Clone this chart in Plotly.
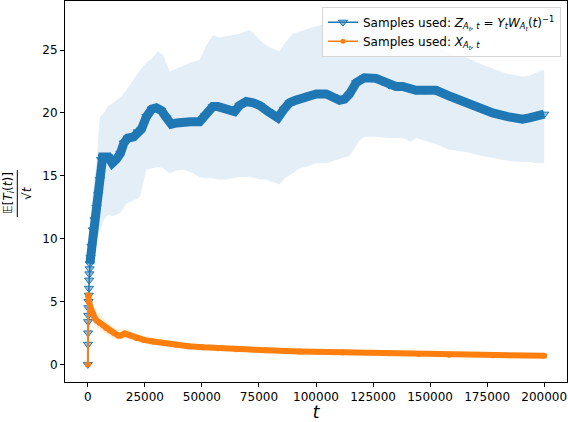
import plotly.graph_objects as go

# mean curve for the weighted samples Z (blue)
blue_t = [0, 50, 100, 150, 200, 250, 300, 400, 500, 600, 700, 800, 900,
          1200, 1600, 2200, 3000, 3800, 4600, 5300, 5800, 6500, 9000, 10700,
          12500, 14300, 15800, 17500, 20100, 22000, 23500, 25700, 28000, 30000,
          32200, 34500, 36600, 39000, 41700, 45000, 49000, 51500, 54800, 57000,
          59200, 62000, 64300, 66500, 69400, 72500, 75300, 79000, 83300, 86000,
          88400, 91000, 94200, 97000, 100100, 104500, 107500, 110300, 112500,
          114700, 117600, 121200, 126300, 129000, 132100, 135000, 138000,
          141000, 143800, 148000, 152600, 159000, 165700, 171000, 177400,
          184000, 190500, 193500, 196400, 200000]
blue_y = [0, 1.6, 2.5, 3.4, 3.9, 4.5, 5.0, 5.5, 6.05, 6.7, 7.2, 7.6, 8.0,
          8.5, 9.4, 10.7, 11.5, 12.5, 13.5, 14.7, 16.3, 16.5, 16.5, 16.0,
          16.3, 16.8, 17.6, 18.0, 18.1, 18.5, 18.7, 19.7, 20.3, 20.4,
          20.2, 19.6, 19.1, 19.2, 19.3, 19.3, 19.3, 19.8, 20.5, 20.5,
          20.4, 20.3, 20.1, 20.6, 20.9, 20.8, 20.6, 20.1, 19.6, 20.3,
          20.8, 21.0, 21.2, 21.4, 21.5, 21.5, 21.3, 21.0, 21.1,
          21.5, 22.4, 22.8, 22.75, 22.5, 22.2, 22.1, 22.1,
          21.9, 21.8, 21.8, 21.8, 21.3, 20.8, 20.4, 20.0,
          19.7, 19.5, 19.6, 19.75, 19.9]

# spread band around the blue curve
band_t = [0, 500, 1000, 2000, 3000, 4000, 4800, 5300, 7000, 8800, 11000,
          14000, 16900, 19500, 22800, 25700, 28000, 30800, 33000, 35900,
          38500, 41700, 45000, 49000, 52000, 54800, 57500, 60700, 63500,
          66500, 69400, 70900, 73000, 75300, 78100, 81000, 84000, 86500,
          89800, 93000, 97200, 100100, 104500, 108000, 110300, 114700,
          117000, 119000, 121500, 126000, 132100, 138000, 141500, 144000,
          152600, 158000, 165700, 172000, 178000, 184000, 190500, 194000,
          196400, 199000, 200000]
band_lo = [0, 5.0, 6.5, 8.5, 9.5, 10.0, 10.3, 10.5, 11.5, 11.9, 11.8,
           12.0, 12.8, 13.0, 13.3, 15.5, 15.6, 15.7, 15.6, 15.2,
           15.4, 15.5, 15.3, 14.9, 14.8, 14.8, 14.7, 14.7, 14.8,
           14.9, 14.9, 14.9, 14.8, 14.7, 14.7, 14.5, 14.3, 14.8,
           15.2, 15.6, 15.8, 16.0, 16.0, 16.2, 16.3, 16.6,
           17.2, 17.8, 18.1, 18.1, 18.0, 18.0, 17.7, 18.0,
           17.5, 17.1, 16.9, 16.6, 16.4, 16.2, 16.1, 16.1,
           16.0, 16.0, 16.0]
band_hi = [0, 7.5, 10.5, 13.5, 15.0, 16.5, 18.6, 19.7, 20.0, 20.5, 20.8,
           21.2, 21.8, 22.5, 23.4, 24.0, 24.3, 24.9, 24.6, 23.3,
           23.5, 23.8, 24.0, 24.2, 25.4, 26.2, 26.0, 26.1, 26.2,
           26.3, 26.5, 26.6, 26.3, 25.8, 25.4, 25.1, 24.9, 25.6,
           26.3, 26.5, 26.7, 26.9, 27.1, 27.3, 27.4, 27.5,
           27.6, 27.6, 27.5, 27.2, 26.7, 26.1, 25.8, 25.6,
           25.2, 24.8, 24.4, 23.9, 23.5, 23.1, 22.9, 23.0,
           23.2, 23.4, 23.4]

# mean curve for the raw samples X (orange)
orange_t = [0, 100, 300, 600, 1000, 1500, 2300, 3000, 3800, 5200, 6700, 8000,
            9600, 11500, 13300, 14500, 16200, 18500, 21300, 24500, 28600,
            33000, 38800, 44000, 50500, 57000, 65100, 78100, 92800, 111700,
            132100, 145000, 158400, 177400, 200000]
orange_y = [0, 5.5, 5.4, 5.0, 4.6, 4.3, 4.0, 3.7, 3.5, 3.3, 3.1, 2.9,
            2.7, 2.5, 2.3, 2.3, 2.45, 2.3, 2.1, 1.95, 1.82,
            1.7, 1.56, 1.45, 1.36, 1.28, 1.2, 1.13, 1.03, 0.96,
            0.88, 0.82, 0.76, 0.72, 0.68]

oband_t = [0, 100, 1000, 2300, 3800, 6700, 9600, 13300, 16200, 21300, 28600,
           38800, 50500, 65100, 92800, 132100, 200000]
oband_lo = [0, 5.1, 4.0, 3.3, 2.85, 2.55, 2.2, 1.9, 2.05, 1.8, 1.55,
            1.38, 1.2, 1.08, 0.94, 0.81, 0.62]
oband_hi = [0, 5.9, 5.3, 4.7, 4.2, 3.7, 3.2, 2.75, 2.9, 2.45, 2.12,
            1.8, 1.55, 1.35, 1.14, 0.97, 0.75]

legend_names = ["Samples used: <i>Z</i><sub><i>A</i><sub><i>t</i></sub><i>, t</i></sub>"
                " = <i>Y</i><sub><i>t</i></sub><i>W</i><sub><i>A</i><sub><i>t</i></sub></sub>(<i>t</i>)<sup>−1</sup>",
                "Samples used: <i>X</i><sub><i>A</i><sub><i>t</i></sub><i>, t</i></sub>"]

BLUE = "#1f77b4"
ORANGE = "#ff7f0e"
FONT = "DejaVu Sans"

fig = go.Figure()

# shaded bands
fig.add_trace(go.Scatter(x=band_t, y=band_lo, mode="lines", line=dict(width=0),
                         showlegend=False, hoverinfo="skip"))
fig.add_trace(go.Scatter(x=band_t, y=band_hi, mode="lines", line=dict(width=0),
                         fill="tonexty", fillcolor="rgba(31,119,180,0.12)",
                         showlegend=False, hoverinfo="skip"))
fig.add_trace(go.Scatter(x=oband_t, y=oband_lo, mode="lines", line=dict(width=0),
                         showlegend=False, hoverinfo="skip"))
fig.add_trace(go.Scatter(x=oband_t, y=oband_hi, mode="lines", line=dict(width=0),
                         fill="tonexty", fillcolor="rgba(255,170,60,0.16)",
                         showlegend=False, hoverinfo="skip"))

# blue curve: thin line with markers, then the dense part as a thick stroke
fig.add_trace(go.Scatter(x=blue_t, y=blue_y, mode="lines+markers",
                         line=dict(color=BLUE, width=1.5),
                         marker=dict(symbol="triangle-down", size=8, color="rgba(31,119,180,0.45)",
                                     line=dict(color=BLUE, width=1)),
                         showlegend=False))
fig.add_trace(go.Scatter(x=blue_t[12:], y=blue_y[12:], mode="lines",
                         line=dict(color=BLUE, width=9), showlegend=False))

# orange curve
fig.add_trace(go.Scatter(x=orange_t, y=orange_y, mode="lines+markers",
                         line=dict(color=ORANGE, width=2),
                         marker=dict(symbol="circle", size=6, color=ORANGE),
                         showlegend=False))
fig.add_trace(go.Scatter(x=orange_t[1:], y=orange_y[1:], mode="lines",
                         line=dict(color=ORANGE, width=6), showlegend=False))

# legend entries
fig.add_trace(go.Scatter(x=[None], y=[None], mode="lines+markers", name=legend_names[0],
                         line=dict(color=BLUE, width=1.5),
                         marker=dict(symbol="triangle-down", size=8, color="rgba(31,119,180,0.45)",
                                     line=dict(color=BLUE, width=1))))
fig.add_trace(go.Scatter(x=[None], y=[None], mode="lines+markers", name=legend_names[1],
                         line=dict(color=ORANGE, width=1.5),
                         marker=dict(symbol="circle", size=5, color=ORANGE)))

# y label as a stacked fraction
fig.add_annotation(text="𝔼[<i>T<sub>i</sub></i>(<i>t</i>)]", textangle=-90,
                   xref="paper", yref="paper", x=0, y=0.496, xshift=-56,
                   xanchor="center", yanchor="middle",
                   showarrow=False, font=dict(family=FONT, size=12, color="black"))
fig.add_annotation(text="√<i>t</i>", textangle=-90,
                   xref="paper", yref="paper", x=0, y=0.496, xshift=-38,
                   xanchor="center", yanchor="middle",
                   showarrow=False, font=dict(family=FONT, size=12, color="black"))
fig.add_shape(type="line", xref="paper", yref="paper", x0=-0.095, x1=-0.095,
              y0=0.433, y1=0.556, line=dict(color="black", width=1))

axis_style = dict(showline=True, mirror=True, linecolor="black", linewidth=1,
                  ticks="outside", ticklen=4, tickwidth=1, tickcolor="black",
                  showgrid=False, zeroline=False, automargin=False,
                  tickfont=dict(family=FONT, size=12, color="black"))

fig.update_layout(
    width=568, height=422,
    margin=dict(l=65, r=1, t=1, b=40, autoexpand=False),
    plot_bgcolor="white", paper_bgcolor="white",
    font=dict(family=FONT, size=12, color="black"),
    hovermode=False,
    xaxis=dict(range=[-10000, 210000], tickmode="linear", tick0=0, dtick=25000,
               tickformat="d", title=dict(text="<i>t</i>", font=dict(size=17), standoff=3),
               **axis_style),
    yaxis=dict(range=[-1.4, 28.9], tickmode="linear", tick0=0, dtick=5, **axis_style),
    legend=dict(x=0.988, y=0.985, xanchor="right", yanchor="top", traceorder="normal",
                bgcolor="rgba(255,255,255,0.8)", bordercolor="#d6d6d6", borderwidth=1,
                font=dict(family=FONT, size=12)),
    showlegend=True,
)

# page body has a default 8px margin; drop it so the figure sits at the corner
fig.write_html("out.html", config={"displayModeBar": False},
               post_script="document.body.style.margin='0px';")
